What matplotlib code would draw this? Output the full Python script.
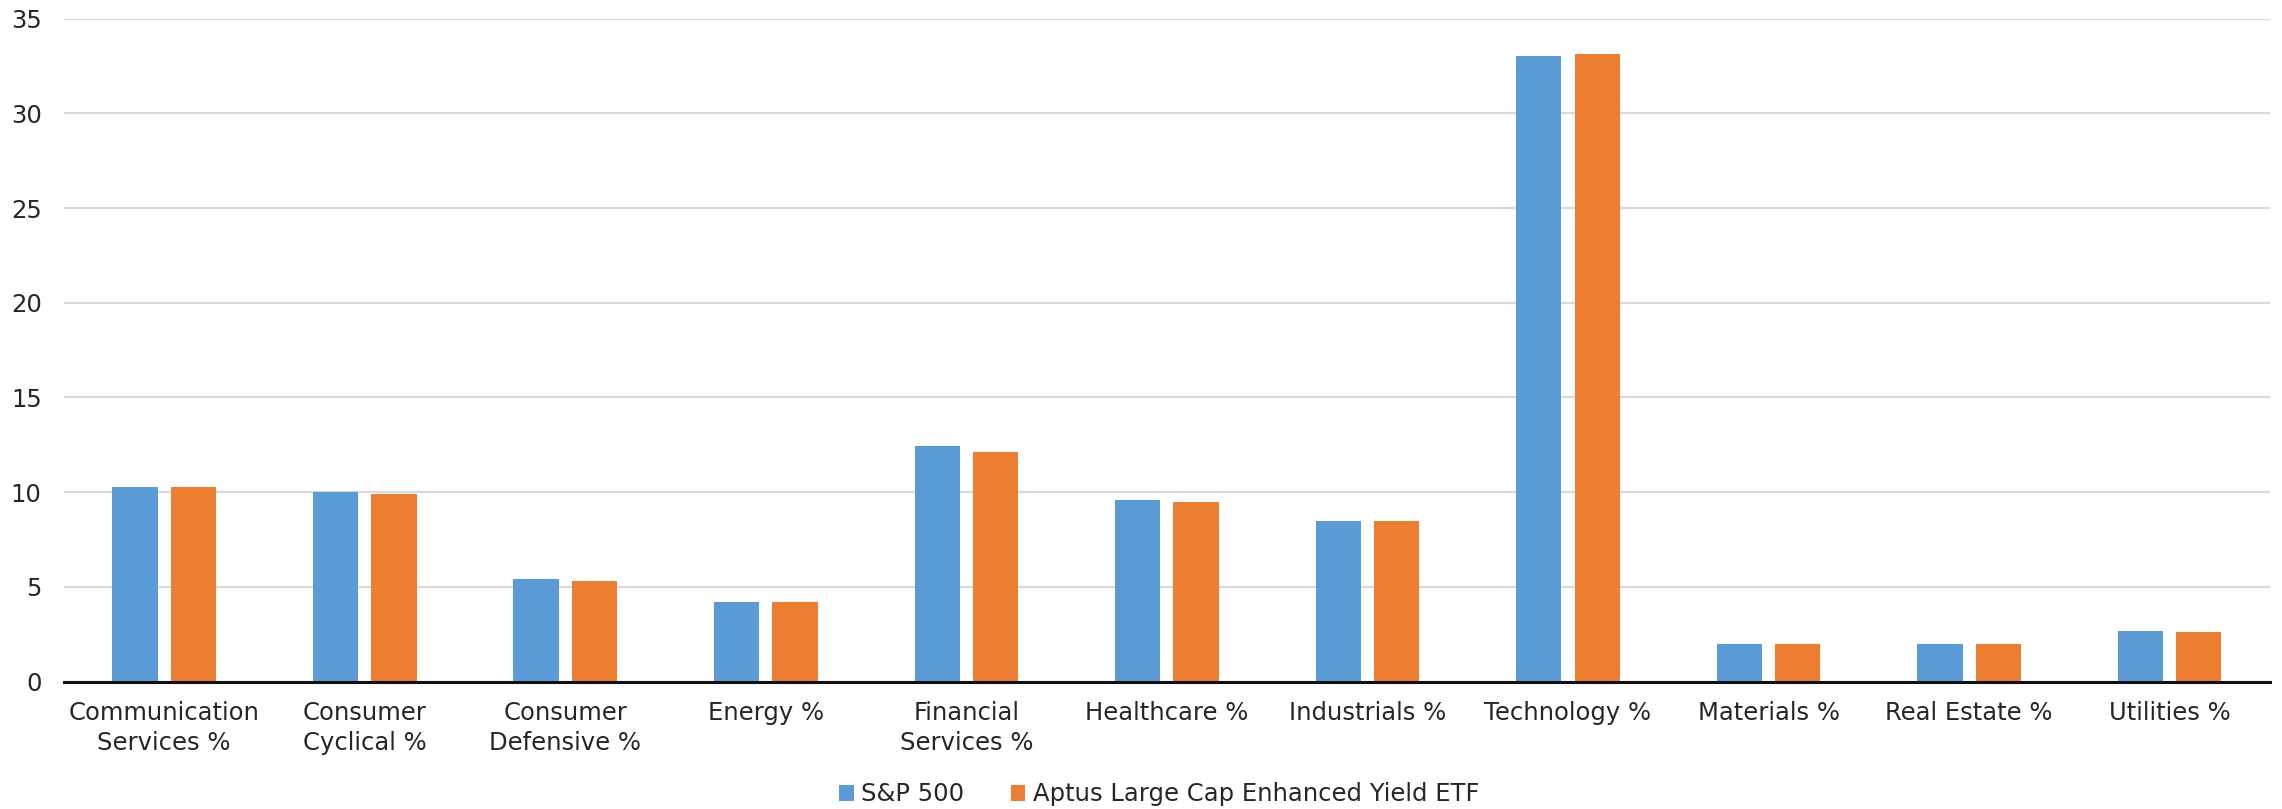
import matplotlib
matplotlib.use("Agg")
import matplotlib.pyplot as plt
import numpy as np

categories = ["Communication\nServices %", "Consumer\nCyclical %", "Consumer\nDefensive %",
              "Energy %", "Financial\nServices %", "Healthcare %", "Industrials %",
              "Technology %", "Materials %", "Real Estate %", "Utilities %"]
sp500 = [10.27, 10.0, 5.41, 4.2, 12.43, 9.58, 8.47, 33.02, 1.98, 1.98, 2.67]
aptus = [10.27, 9.9, 5.31, 4.19, 12.12, 9.48, 8.46, 33.13, 1.98, 1.98, 2.61]
series_names = ["S&P 500", "Aptus Large Cap Enhanced Yield ETF"]
yticks = [0, 5, 10, 15, 20, 25, 30, 35]

plt.rcParams['font.family'] = ['DejaVu Sans']
text_color = "#262626"

fig = plt.figure(figsize=(22.82, 8.09), dpi=100)
ax = fig.add_axes([0.028, 0.1576, 0.9667, 0.8194])

x = np.arange(len(categories))
w = 0.226
off = 0.1455
ax.bar(x - off, sp500, width=w, color="#5B9BD5", label=series_names[0], zorder=3)
ax.bar(x + off, aptus, width=w, color="#ED7D31", label=series_names[1], zorder=3)

ax.set_xlim(-0.5, len(categories) - 0.5)
ax.set_ylim(0, 35)
ax.set_yticks(yticks)
ax.set_yticklabels([str(t) for t in yticks])
ax.set_xticks(x)
ax.set_xticklabels(categories, linespacing=1.3)
ax.tick_params(axis='both', length=0, labelsize=17.5, colors=text_color)
ax.tick_params(axis='y', pad=16)
ax.tick_params(axis='x', pad=14)
ax.grid(axis='y', color="#D9D9D9", linewidth=1.6, zorder=0)
for s in ['top', 'right', 'left']:
    ax.spines[s].set_visible(False)
ax.spines['bottom'].set_color("#111111")
ax.spines['bottom'].set_linewidth(2.2)
ax.spines['bottom'].set_zorder(4)

leg = fig.legend(loc='center', bbox_to_anchor=(0.508, 0.018), ncol=2, frameon=False,
                 fontsize=17.5, handlelength=0.6, handleheight=0.6, handletextpad=0.3,
                 columnspacing=1.9, labelcolor=text_color)

fig.savefig("out.png", dpi=100)
